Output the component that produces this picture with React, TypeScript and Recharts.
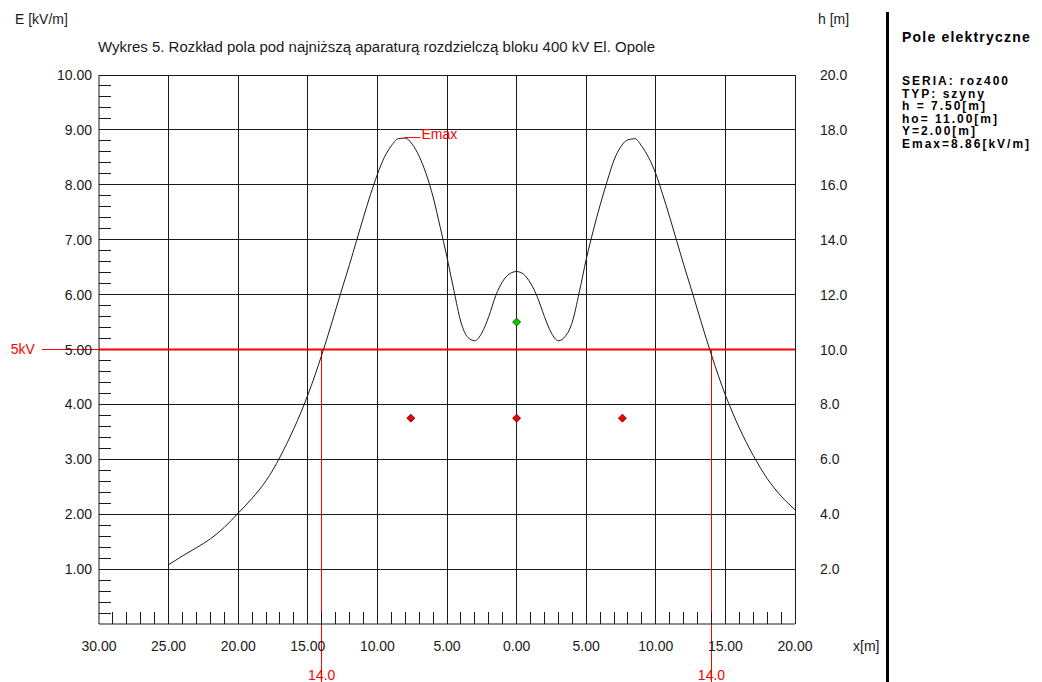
import { ComposedChart, Line, Scatter, XAxis, YAxis, ReferenceLine, ReferenceDot } from "recharts"

// x [m] i natężenie pola E [kV/m]
const positions = [
  -25, -24, -23, -22, -21, -20, -19.5, -19, -18.5, -18, -17.5, -17, -16.5, -16, -15.5, -15, -14.5, -14,
  -13.5, -13, -12.5, -12, -11.5, -11, -10.5, -10, -9.5, -9, -8.5, -8, -7.5, -7, -6.5, -6, -5.5, -5, -4.5,
  -4, -3.5, -3, -2.5, -2, -1.5, -1, -0.5, 0, 0.5, 1, 1.5, 2, 2.5, 3, 3.5, 4, 4.5, 5, 5.5, 6, 6.5, 7, 7.5,
  8, 8.5, 9, 9.5, 10, 10.5, 11, 11.5, 12, 12.5, 13, 13.5, 14, 14.5, 15, 15.5, 16, 16.5, 17, 17.5, 18,
  18.5, 19, 19.5, 20,
]
const fieldE = [
  1.08, 1.24, 1.39, 1.55, 1.76, 2.02, 2.15, 2.29, 2.44, 2.61, 2.81, 3.04, 3.29, 3.56, 3.85, 4.17, 4.52, 4.9,
  5.3, 5.72, 6.14, 6.55, 6.98, 7.41, 7.82, 8.19, 8.5, 8.71, 8.84, 8.85, 8.74, 8.52, 8.2, 7.78, 7.24, 6.68, 6.07,
  5.5, 5.22, 5.16, 5.3, 5.6, 5.98, 6.24, 6.38, 6.42, 6.37, 6.21, 5.95, 5.6, 5.3, 5.16, 5.24, 5.5, 6.04,
  6.64, 7.16, 7.63, 8.06, 8.45, 8.7, 8.82, 8.84, 8.7, 8.49, 8.2, 7.82, 7.41, 6.98, 6.55, 6.14, 5.72, 5.3, 4.9,
  4.52, 4.17, 3.86, 3.57, 3.31, 3.07, 2.85, 2.65, 2.48, 2.33, 2.2, 2.08,
]

// przewody (h) i punkt obserwacji (ho)
const conductorX = [-7.6, 0, 7.6]
const conductorH = [7.5, 7.5, 7.5]
const probeX = [0]
const probeH = [11.0]

const xGrid = [-25, -20, -15, -10, -5, 0, 5, 10, 15, 20]
const eGrid = [1, 2, 3, 4, 5, 6, 7, 8, 9, 10]
const hTicks = [2, 4, 6, 8, 10, 12, 14, 16, 18, 20]
const limitE = 5
const limitCross = [-14, 14]
const emaxPoint = { x: -8.2, E: 8.86 }

const title = "Wykres 5. Rozkład pola pod najniższą aparaturą rozdzielczą bloku 400 kV El. Opole"
const legendTitle = "Pole elektryczne"
const legendLines = ["SERIA: roz400", "TYP: szyny", "h = 7.50[m]", "ho= 11.00[m]", "Y=2.00[m]", "Emax=8.86[kV/m]"]

const fieldData = positions.map((x, i) => ({ x, E: fieldE[i] }))
const conductors = conductorX.map((x, i) => ({ x, h: conductorH[i] }))
const probe = probeX.map((x, i) => ({ x, h: probeH[i] }))

// minor ticks: every 1 m and every 0.2 kV/m
const xTicks = Array.from({ length: 51 }, (_, i) => i - 30)
const eTicks = Array.from({ length: 51 }, (_, i) => Math.round(i * 2) / 10)

const ink = "#1a1a1a"
const font = "'Liberation Sans', Arial, sans-serif"
const red = "#ff0000"

function XTick({ x, y, payload }: any) {
  const v = payload.value
  if (v % 5 === 0)
    return (
      <text x={x} y={y + 27} textAnchor="middle" fontFamily={font} fontSize={14} fill={ink}>
        {Math.abs(v).toFixed(2)}
      </text>
    )
  return <line x1={x} x2={x} y1={y} y2={y - 12} stroke={ink} shapeRendering="crispEdges" />
}

function ETick({ x, y, payload }: any) {
  const v = payload.value
  if (Math.abs(v - Math.round(v)) < 1e-6) {
    if (v === 0) return <g />
    return (
      <text x={x - 7} y={y + 5} textAnchor="end" fontFamily={font} fontSize={14} fill={ink}>
        {v.toFixed(2)}
      </text>
    )
  }
  return <line x1={x} x2={x + 12} y1={y} y2={y} stroke={ink} shapeRendering="crispEdges" />
}

function HTick({ x, y, payload }: any) {
  return (
    <text x={x + 25} y={y + 5} textAnchor="start" fontFamily={font} fontSize={14} fill={ink}>
      {payload.value.toFixed(1)}
    </text>
  )
}

function diamond(fill: string, edge: string) {
  return (p: any) => (
    <polygon
      points={`${p.cx},${p.cy - 4} ${p.cx + 4},${p.cy} ${p.cx},${p.cy + 4} ${p.cx - 4},${p.cy}`}
      fill={fill}
      stroke={edge}
      strokeWidth={0.8}
    />
  )
}

function EmaxMark({ cx, cy }: any) {
  return (
    <g>
      <line x1={cx + 2} x2={cx + 18} y1={cy} y2={cy} stroke={red} />
      <text x={cx + 19} y={cy + 1} fontFamily={font} fontSize={14} fill={red}>
        Emax
      </text>
    </g>
  )
}

export default function App() {
  return (
    <div style={{ position: "relative", width: 1042, height: 682, background: "#fff", overflow: "hidden" }}>
      <style>{"body{margin:0}"}</style>
      <ComposedChart
        width={1042}
        height={682}
        data={fieldData}
        margin={{ top: 75, right: 187, bottom: 28, left: 0 }}
      >
        <XAxis
          dataKey="x"
          type="number"
          domain={[-30, 20]}
          ticks={xTicks}
          interval={0}
          tickSize={0}
          tickMargin={0}
          tickLine={false}
          tick={XTick}
          height={30}
          axisLine={{ stroke: ink }}
          allowDataOverflow
        />
        <YAxis
          yAxisId="e"
          type="number"
          domain={[0, 10]}
          ticks={eTicks}
          interval={0}
          tickSize={0}
          tickMargin={0}
          tickLine={false}
          tick={ETick}
          width={99}
          axisLine={{ stroke: ink }}
          allowDataOverflow
        />
        <YAxis
          yAxisId="h"
          orientation="right"
          type="number"
          domain={[0, 20]}
          ticks={hTicks}
          interval={0}
          tickSize={0}
          tickMargin={0}
          tickLine={false}
          tick={HTick}
          width={60}
          axisLine={false}
          allowDataOverflow
        />
        {xGrid.map((v) => (
          <ReferenceLine key={"gx" + v} x={v} yAxisId="e" stroke={ink} shapeRendering="crispEdges" />
        ))}
        {eGrid.map((v) => (
          <ReferenceLine key={"gy" + v} y={v} yAxisId="e" stroke={ink} shapeRendering="crispEdges" />
        ))}
        <ReferenceLine y={limitE} yAxisId="e" stroke={red} strokeWidth={2} />
        <ReferenceLine
          yAxisId="e"
          ifOverflow="visible"
          segment={[
            { x: -34.1, y: limitE },
            { x: -30, y: limitE },
          ]}
          stroke={red}
          label={{ value: "5kV", position: "left", offset: 7, fill: red, fontSize: 14, fontFamily: font }}
        />
        {limitCross.map((c) => (
          <ReferenceLine
            key={"c" + c}
            yAxisId="e"
            ifOverflow="visible"
            segment={[
              { x: c, y: limitE },
              { x: c, y: -1.1 },
            ]}
            stroke={red}
            shapeRendering="crispEdges"
            label={{ value: "14.0", position: "bottom", offset: -14, fill: red, fontSize: 14, fontFamily: font }}
          />
        ))}
        <Line
          yAxisId="e"
          dataKey="E"
          type="monotone"
          stroke={ink}
          strokeWidth={1}
          dot={false}
          isAnimationActive={false}
        />
        <Scatter yAxisId="h" data={conductors} dataKey="h" shape={diamond("#ee0000", "#550000")} isAnimationActive={false} />
        <Scatter yAxisId="h" data={probe} dataKey="h" shape={diamond("#00cc00", "#004400")} isAnimationActive={false} />
        <ReferenceDot yAxisId="e" x={emaxPoint.x} y={emaxPoint.E} r={0} shape={EmaxMark} ifOverflow="visible" />
      </ComposedChart>
      <svg width={1042} height={682} style={{ position: "absolute", left: 0, top: 0, pointerEvents: "none" }}>
        <text x={15} y={24} fontFamily={font} fontSize={14} fill={ink}>
          E [kV/m]
        </text>
        <text x={98} y={52} fontFamily={font} fontSize={14} fill={ink} textLength={557} lengthAdjust="spacingAndGlyphs">
          {title}
        </text>
        <text x={818} y={24} fontFamily={font} fontSize={14} fill={ink}>
          h [m]
        </text>
        <text x={853} y={651} fontFamily={font} fontSize={14} fill={ink}>
          x[m]
        </text>
        <rect x={886} y={12} width={3} height={670} fill="#000" />
        <text x={902} y={42} fontFamily={font} fontSize={14} fontWeight="bold" letterSpacing={1.2} fill="#000">
          {legendTitle}
        </text>
        {legendLines.map((t, i) => (
          <text
            key={t}
            x={902}
            y={85 + i * 12.6}
            fontFamily={font}
            fontSize={12}
            fontWeight="bold"
            letterSpacing={2}
            fill="#000"
          >
            {t}
          </text>
        ))}
      </svg>
    </div>
  )
}
